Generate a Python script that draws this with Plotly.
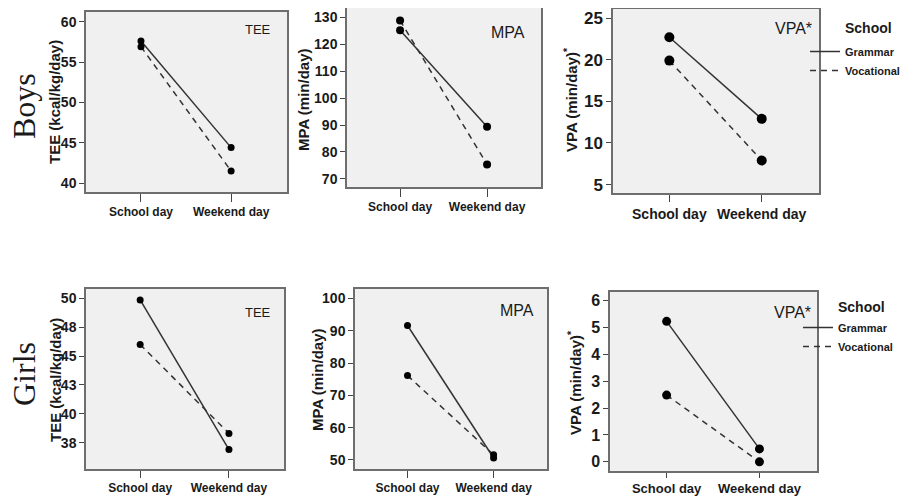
import plotly.graph_objects as go

# ---------------- data ----------------
days = ["School day", "Weekend day"]
schools = ["Grammar", "Vocational"]

boys_tee_grammar = [57.6, 44.4]
boys_tee_vocational = [56.9, 41.5]
boys_mpa_grammar = [125.2, 89.4]
boys_mpa_vocational = [128.8, 75.4]
boys_vpa_grammar = [22.7, 12.9]
boys_vpa_vocational = [19.9, 7.9]

girls_tee_grammar = [49.85, 36.9]
girls_tee_vocational = [46.0, 38.3]
girls_mpa_grammar = [91.6, 50.6]
girls_mpa_vocational = [76.1, 51.6]
girls_vpa_grammar = [5.22, 0.48]
girls_vpa_vocational = [2.48, 0.0]

boys_tee_ticks = [40, 45, 50, 55, 60]
boys_mpa_ticks = [70, 80, 90, 100, 110, 120, 130]
boys_vpa_ticks = [5, 10, 15, 20, 25]
girls_tee_ticks = [37.5, 40, 42.5, 45, 47.5, 50]
girls_tee_ticktext = ["38", "40", "43", "45", "48", "50"]
girls_mpa_ticks = [50, 60, 70, 80, 90, 100]
girls_vpa_ticks = [0, 1, 2, 3, 4, 5, 6]

# The page body has an 8px margin, so the figure is 900x492 and drawn at (8, 8).
OFF = 8
W, H = 900, 492


def fx(px):
    return min(1.0, max(0.0, (px - OFF) / W))


def fy(py):
    return min(1.0, max(0.0, 1 - (py - OFF) / H))


SANS = "Liberation Sans, Arial"
SERIF = "Liberation Serif, Times New Roman, serif"
INK = "#1a1a1a"

panels = [
    dict(g=boys_tee_grammar, v=boys_tee_vocational, box=(86, 287, 12, 192), yr=(38.9, 61.2),
         tv=boys_tee_ticks, tt=None, ytitle="TEE (kcal/kg/day)", label="TEE", lfs=13,
         lpos=(258, 29), tpos=(55, 102), tfs=14, xfs=12, ms=7, xtl=8),
    dict(g=boys_mpa_grammar, v=boys_mpa_vocational, box=(347, 541, 8, 187), yr=(67.0, 133.46),
         tv=boys_mpa_ticks, tt=None, ytitle="MPA (min/day)", label="MPA", lfs=16,
         lpos=(508, 33), tpos=(303, 100), tfs=14, xfs=12, ms=8, xtl=8),
    dict(g=boys_vpa_grammar, v=boys_vpa_vocational, box=(613, 819, 9, 193), yr=(3.99, 26.1),
         tv=boys_vpa_ticks, tt=None, ytitle="VPA (min/day)<sup>*</sup>", label="VPA*", lfs=16,
         lpos=(793, 28), tpos=(570, 100), tfs=17, xfs=14, ms=10, xtl=7),
    dict(g=girls_tee_grammar, v=girls_tee_vocational, box=(86, 284, 289, 469), yr=(35.22, 50.8),
         tv=girls_tee_ticks, tt=girls_tee_ticktext, ytitle="TEE (kcal/kg/day)", label="TEE", lfs=13,
         lpos=(258, 312), tpos=(55, 380), tfs=14, xfs=12, ms=7, xtl=7),
    dict(g=girls_mpa_grammar, v=girls_mpa_vocational, box=(355, 547, 289, 469), yr=(47.2, 102.9),
         tv=girls_mpa_ticks, tt=None, ytitle="MPA (min/day)", label="MPA", lfs=16,
         lpos=(517, 310), tpos=(317, 380), tfs=14, xfs=12, ms=7, xtl=7),
    dict(g=girls_vpa_grammar, v=girls_vpa_vocational, box=(610, 817, 292, 471), yr=(-0.34, 6.31),
         tv=girls_vpa_ticks, tt=None, ytitle="VPA (min/day)<sup>*</sup>", label="VPA*", lfs=16,
         lpos=(792, 312), tpos=(574, 383), tfs=16, xfs=13, ms=9, xtl=5),
]

fig = go.Figure()
layout = {}
annotations = []

for i, p in enumerate(panels, start=1):
    sx = "" if i == 1 else str(i)
    x0, x1, y0, y1 = p["box"]
    xa, ya = "x" + sx, "y" + sx
    for vals, dash in ((p["g"], "solid"), (p["v"], "6px,5px")):
        fig.add_trace(go.Scatter(
            x=days, y=vals, xaxis=xa, yaxis=ya, mode="lines+markers",
            line=dict(color="#333333", width=1.5, dash=dash),
            marker=dict(color="black", size=p["ms"]),
            showlegend=False, hoverinfo="x+y"))
    common = dict(showline=True, linecolor="#6e6e6e", linewidth=1.5, mirror=True,
                  showgrid=False, zeroline=False, ticks="outside", tickcolor="#444",
                  tickwidth=1.2, automargin=False)
    layout["xaxis" + sx] = dict(common, domain=[fx(x0), fx(x1)], anchor=ya,
                                type="category", range=[-0.61, 1.62], ticklen=p["xtl"],
                                tickangle=0,
                                tickfont=dict(family=SANS, size=p["xfs"], color=INK, weight="bold"))
    ydict = dict(common, domain=[fy(y1), fy(y0)], anchor=xa,
                 range=list(p["yr"]), tickvals=p["tv"], ticklen=5,
                 tickfont=dict(family=SANS, size=p["tfs"], color=INK, weight="bold"))
    if p["tt"] is not None:
        ydict["ticktext"] = p["tt"]
    layout["yaxis" + sx] = ydict
    # panel label
    annotations.append(dict(text=p["label"], x=fx(p["lpos"][0]), y=fy(p["lpos"][1]),
                            xref="paper", yref="paper", showarrow=False,
                            xanchor="center", yanchor="middle",
                            font=dict(family=SANS, size=p["lfs"], color=INK)))
    # y-axis title
    annotations.append(dict(text=p["ytitle"], x=fx(p["tpos"][0]), y=fy(p["tpos"][1]),
                            xref="paper", yref="paper", showarrow=False, textangle=-90,
                            xanchor="center", yanchor="middle",
                            font=dict(family=SANS, size=15, color=INK, weight="bold")))

# legend-only traces
for leg in ("legend", "legend2"):
    for name, dash in zip(schools, ("solid", "6px,5px")):
        fig.add_trace(go.Scatter(x=[None], y=[None], mode="lines", name=name,
                                 line=dict(color="#333333", width=1.5, dash=dash),
                                 legend=leg, showlegend=True))

legfont = dict(family=SANS, size=11, color=INK, weight="bold")
layout["legend"] = dict(x=fx(805), y=fy(37), xanchor="left", yanchor="top",
                        bgcolor="rgba(0,0,0,0)", font=legfont, tracegroupgap=0,
                        itemwidth=30)
layout["legend2"] = dict(x=fx(798), y=fy(313), xanchor="left", yanchor="top",
                         bgcolor="rgba(0,0,0,0)", font=legfont, tracegroupgap=0,
                         itemwidth=30)

# legend headings and row labels
annotations.append(dict(text="School", x=fx(868), y=fy(28), xref="paper", yref="paper",
                        xanchor="center", yanchor="middle", showarrow=False,
                        font=dict(family=SANS, size=14, color=INK, weight="bold")))
annotations.append(dict(text="School", x=fx(861), y=fy(307), xref="paper", yref="paper",
                        xanchor="center", yanchor="middle", showarrow=False,
                        font=dict(family=SANS, size=14, color=INK, weight="bold")))
annotations.append(dict(text="Boys", x=fx(24), y=fy(106), xref="paper", yref="paper",
                        xanchor="center", yanchor="middle", showarrow=False, textangle=-90,
                        font=dict(family=SERIF, size=32, color=INK)))
annotations.append(dict(text="Girls", x=fx(24), y=fy(374), xref="paper", yref="paper",
                        xanchor="center", yanchor="middle", showarrow=False, textangle=-90,
                        font=dict(family=SERIF, size=32, color=INK)))

fig.update_layout(
    width=W, height=H,
    margin=dict(l=0, r=0, t=0, b=0, autoexpand=False),
    paper_bgcolor="white",
    plot_bgcolor="#f0f0f0",
    annotations=annotations,
    **layout,
)

fig.write_html("out.html")
